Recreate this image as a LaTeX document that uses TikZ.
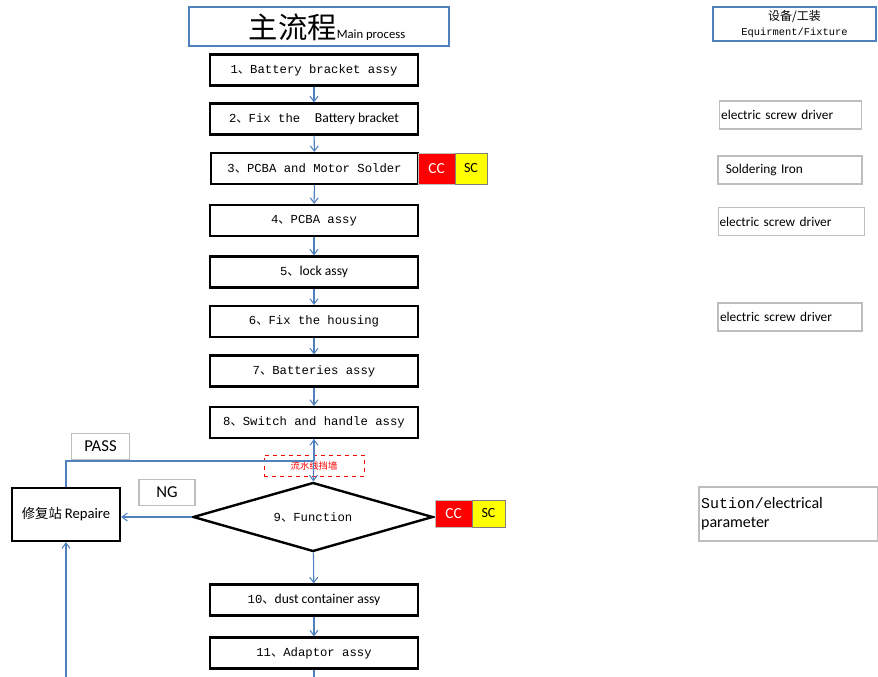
\documentclass[tikz,border=0pt]{standalone}
\usepackage{fontspec}
\setmainfont{Carlito}
\setmonofont{Liberation Mono}
\newfontfamily\cjk{Noto Sans CJK SC}
\usetikzlibrary{shapes.geometric,arrows.meta}
\definecolor{lblue}{RGB}{79,129,189}
\definecolor{gborder}{RGB}{190,190,190}
\definecolor{ccred}{RGB}{255,0,0}
\definecolor{scyellow}{RGB}{255,255,0}
\newcommand\dun{{\cjk 、}}
\newcommand\calfont{\rmfamily\fontsize{10.2}{12}\selectfont}
\tikzset{
  stepbox/.style={draw=black, line width=1.8pt, fill=white, inner sep=0pt,
    minimum width=156pt, minimum height=23pt,
    font=\ttfamily\fontsize{9.2}{10}\selectfont},
  equip/.style={draw=gborder, line width=0.8pt, inner sep=0pt, minimum height=21pt,
    align=left, font=\fontsize{10}{12}\selectfont},
  ccbox/.style={fill=ccred, draw=gborder, line width=0.5pt, text=white, inner sep=0pt,
    font=\fontsize{11.5}{13}\selectfont},
  scbox/.style={fill=scyellow, draw=gray, line width=0.5pt, text=black, inner sep=0pt,
    font=\fontsize{10.5}{12}\selectfont},
  lblbox/.style={draw=gborder, line width=0.8pt, inner sep=0pt, fill=white,
    font=\fontsize{12.5}{14}\selectfont},
  flow/.style={draw=lblue, line width=0.8pt},
  arr/.style={flow, -{Straight Barb[length=4pt,width=6pt]}},
}
\begin{document}
\begin{tikzpicture}[x=0.75pt,y=-0.75pt]
\useasboundingbox (0,0) rectangle (878,677);
% title
\node[draw=lblue, line width=1.5pt, minimum width=195pt, minimum height=29pt, inner sep=0pt] (title) at (319,26.5) {};
\node[inner sep=0pt] (titletext) at (327,27)
  {{\cjk\fontsize{22}{24}\selectfont 主流程}{\fontsize{9.5}{10}\selectfont Main process}};
\node[draw=lblue, line width=1.5pt, minimum width=122pt, minimum height=25.5pt, inner sep=0pt, align=center] (hdr) at (794.5,24)
  {{\cjk\fontsize{9}{10}\selectfont 设备/工装}\\[-1pt]{\ttfamily\fontsize{7.8}{9}\selectfont Equirment/Fixture}};
% steps
\node[stepbox] (s1) at (314,70) {1\dun Battery bracket assy};
\node[stepbox] (s2) at (314,119) {2\dun Fix the \ {\calfont Battery bracket}};
\node[stepbox, minimum width=155pt] (s3) at (314.5,168.5) {3\dun PCBA and Motor Solder};
\node[stepbox] (s4) at (314,220.5) {4\dun PCBA assy};
\node[stepbox] (s5) at (314,272) {5\dun {\calfont lock assy}};
\node[stepbox] (s6) at (314,321.5) {6\dun Fix the housing};
\node[stepbox] (s7) at (314,371) {7\dun Batteries assy};
\node[stepbox] (s8) at (314,422.5) {8\dun Switch and handle assy};
\node[draw=black, line width=1.8pt, shape=diamond, aspect=3.48, minimum width=180pt, minimum height=51.75pt, inner sep=0pt,
  font=\ttfamily\fontsize{9.2}{10}\selectfont] (s9) at (313,517) {9\dun Function};
\node[stepbox] (s10) at (314,600) {10\dun {\calfont dust container assy}};
\node[stepbox] (s11) at (314,653) {11\dun Adaptor assy};
% CC SC
\node[ccbox, minimum width=27.75pt, minimum height=23.25pt] (cc1) at (436.5,168.5) {CC};
\node[scbox, minimum width=24pt, minimum height=23.25pt] (sc1) at (471,168.5) {SC};
\node[ccbox, minimum width=27.75pt, minimum height=20.25pt] (cc2) at (453.5,513.5) {CC};
\node[scbox, minimum width=24.75pt, minimum height=20.25pt] (sc2) at (488.5,513.5) {SC};
% repair and labels
\node[draw=black, line width=1.8pt, minimum width=81pt, minimum height=39.75pt, inner sep=0pt, fill=white] (rep) at (66,514.5)
  {{\cjk\fontsize{10}{12}\selectfont 修复站} {\fontsize{11}{13}\selectfont Repaire}};
\node[lblbox, minimum width=44pt, minimum height=20pt] (pass) at (100.5,446.5) {PASS};
\node[lblbox, minimum width=42pt, minimum height=19pt] (ng) at (167,492.5) {NG};
\node[draw=ccred, dashed, line width=0.6pt, minimum width=75pt, minimum height=15.75pt, inner sep=0pt,
  text=ccred] (wall) at (314,465.5) {{\cjk\fontsize{7}{8}\selectfont 流水线挡墙}};
% equipment
\node[equip, minimum width=107pt, text width=104pt] (e1) at (790.5,115) {electric screw driver};
\node[equip, minimum width=108pt, text width=103pt] (e2) at (790,170) {\ Soldering Iron};
\node[equip, minimum width=110pt, text width=108pt] (e3) at (791.5,221.5) {electric screw driver};
\node[equip, minimum width=108pt, text width=105pt] (e4) at (790,317) {electric screw driver};
\node[equip, minimum width=134.25pt, minimum height=40.5pt, text width=131pt, font=\fontsize{12}{14}\selectfont] (e5) at (788.5,514)
  {{\ttfamily\fontsize{11.2}{14}\selectfont Sution/}electrical\\parameter};
% connectors
\coordinate (j) at (314,461);
\coordinate (bot1) at (314,677);
\coordinate (bot2) at (66,677);
\draw[arr] (s1) -- (s2);
\draw[arr] (s2) -- (s3);
\draw[arr] (s3) -- (s4);
\draw[arr] (s4) -- (s5);
\draw[arr] (s5) -- (s6);
\draw[arr] (s6) -- (s7);
\draw[arr] (s7) -- (s8);
\draw[arr] (s8) -- (s9);
\draw[arr] (j) -- (s8.south);
\draw[flow] (rep.north) |- (j);
\draw[arr] (s9.west) -- (s9.west -| rep.east);
\draw[arr] (s9) -- (s10);
\draw[arr] (s10) -- (s11);
\draw[flow] (s11) -- (bot1);
\draw[arr] (bot2) -- (rep.south);
\end{tikzpicture}
\end{document}
